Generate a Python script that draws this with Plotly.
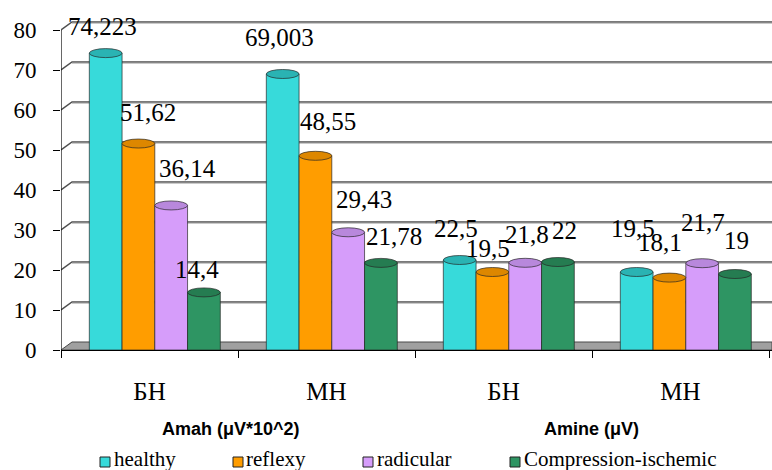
import plotly.graph_objects as go

# ---- data -------------------------------------------------------------
categories = ["БН", "МН", "БН", "МН"]
group_titles = ["Amah (μV*10^2)", "Amine (μV)"]
series_names = ["healthy", "reflexy", "radicular", "Compression-ischemic"]

healthy = [74.223, 69.003, 22.5, 19.5]
reflexy = [51.62, 48.55, 19.5, 18.1]
radicular = [36.14, 29.43, 21.8, 21.7]
compression = [14.4, 21.78, 22, 19]

y_ticks = [0, 10, 20, 30, 40, 50, 60, 70, 80]

# ---- styling ------------------------------------------------------------
body_colors = ["#37DADA", "#FF9D00", "#D69DFA", "#2E9563"]
cap_colors = ["#2AB3B3", "#DD8700", "#B888DC", "#257C51"]
edge = "rgba(35,35,35,0.85)"
serif = "Liberation Serif, Times New Roman, serif"
sans = "Liberation Sans, Arial, sans-serif"

# label nudges (px) relative to the top of each cylinder, per series
label_dx = [[-3, -3, -4, -4], [10, 13, -4, -9], [16, 16, 2, 1], [-7, 13, 7, 2]]
label_dy = [[-27, -36, -32, -44], [-31, -34, -24, -35],
            [-37, -33, -28, -41], [-23, -26, -32, -34]]

# plot-area geometry (pixels)
W, H = 772, 470
ML, MR, MT, MB = 61, 0, 20, 120
X_MIN = -0.5
X_MAX = 3.5 + 3 / 177
Y_MAX = 82.5
PX_PER_X = (W - ML - MR) / (X_MAX - X_MIN)
PX_PER_Y = (H - MT - MB) / Y_MAX

BAR_W = 0.185
GROUP_SHIFT = 0.03
DEPTH_X = 11 / PX_PER_X   # back wall offset
DEPTH_Y = 8 / PX_PER_Y
CAP_H = 4.5 / PX_PER_Y    # half height of the cylinder caps


def px_x(px):
    return (px - ML) / (W - ML - MR)


def px_y(py):
    return (H - MB - py) / (H - MT - MB)


def fmt(v):
    return f"{v:g}".replace(".", ",")


all_series = [healthy, reflexy, radicular, compression]
xs = list(range(len(categories)))

fig = go.Figure()
shapes_below = []
shapes_above = []
annotations = []

# back wall gridlines with the 3D diagonal from the front axis
for t in y_ticks[1:]:
    path = (f"M {X_MIN},{t} L {X_MIN + DEPTH_X},{t + DEPTH_Y} "
            f"L {X_MAX},{t + DEPTH_Y}")
    shapes_below.append(dict(type="path", path=path, xref="x", yref="y",
                             line=dict(color="#4F4F4F", width=1.5),
                             layer="below"))
    shade = (f"M {X_MIN + DEPTH_X},{t + DEPTH_Y - 1.3 / PX_PER_Y} "
             f"L {X_MAX},{t + DEPTH_Y - 1.3 / PX_PER_Y}")
    shapes_below.append(dict(type="path", path=shade, xref="x", yref="y",
                             line=dict(color="#BDBDBD", width=1),
                             layer="below"))

# floor
floor = (f"M {X_MIN},0 L {X_MIN + DEPTH_X},{DEPTH_Y} L {X_MAX},{DEPTH_Y} "
         f"L {X_MAX},0 Z")
shapes_below.append(dict(type="path", path=floor, xref="x", yref="y",
                         fillcolor="#A0A0A0",
                         line=dict(color="#4A4A4A", width=1), layer="below"))

# front vertical axis
shapes_below.append(dict(type="line", xref="x", yref="y", x0=X_MIN, x1=X_MIN,
                         y0=0, y1=80, line=dict(color="black", width=1.2),
                         layer="below"))

for k, (name, vals) in enumerate(zip(series_names, all_series)):
    off = GROUP_SHIFT + (k - 1.5) * BAR_W - BAR_W / 2
    fig.add_trace(go.Bar(
        name=name, x=xs, y=vals, width=BAR_W, offset=off,
        marker=dict(color=body_colors[k], line=dict(color=edge, width=0.8)),
        showlegend=False, hoverinfo="name+y",
    ))
    for i, v in enumerate(vals):
        x0 = i + off
        x1 = x0 + BAR_W
        # rounded base
        shapes_below.append(dict(type="circle", xref="x", yref="y",
                                 x0=x0, x1=x1, y0=-CAP_H, y1=CAP_H,
                                 fillcolor=body_colors[k],
                                 line=dict(color=edge, width=0.8),
                                 layer="below"))
        # top cap
        shapes_above.append(dict(type="circle", xref="x", yref="y",
                                 x0=x0, x1=x1, y0=v - CAP_H, y1=v + CAP_H,
                                 fillcolor=cap_colors[k],
                                 line=dict(color=edge, width=0.8),
                                 layer="above"))
        annotations.append(dict(
            x=x0 + BAR_W / 2, y=v, xref="x", yref="y", text=fmt(v),
            showarrow=False, xanchor="center", yanchor="middle",
            xshift=label_dx[k][i], yshift=-label_dy[k][i],
            font=dict(family=serif, size=25, color="black"),
        ))

# group titles under the category labels
for title, cx in zip(group_titles, [231, 591]):
    annotations.append(dict(
        x=px_x(cx), y=px_y(429), xref="paper", yref="paper", text=f"<b>{title}</b>",
        showarrow=False, xanchor="center", yanchor="middle",
        font=dict(family=sans, size=18, color="black"),
    ))

# legend row
legend_sq = [105, 238, 368, 515]
legend_tx = [113, 245, 376, 523]
for k, name in enumerate(series_names):
    cx = legend_sq[k]
    shapes_above.append(dict(type="rect", xref="paper", yref="paper",
                             x0=px_x(cx - 5), x1=px_x(cx + 5),
                             y0=px_y(467), y1=px_y(457),
                             fillcolor=body_colors[k],
                             line=dict(color="#222222", width=1)))
    annotations.append(dict(
        x=px_x(legend_tx[k]), y=px_y(459), xref="paper", yref="paper",
        text=name, showarrow=False, xanchor="left", yanchor="middle",
        borderpad=0,
        font=dict(family=serif, size=21, color="black"),
    ))

fig.update_layout(
    width=W, height=H,
    margin=dict(l=ML, r=MR, t=MT, b=MB),
    paper_bgcolor="white", plot_bgcolor="white",
    barmode="overlay",
    shapes=shapes_below + shapes_above,
    annotations=annotations,
    xaxis=dict(
        range=[X_MIN, X_MAX], tickmode="array", tickvals=xs,
        ticktext=categories, ticks="", showgrid=False, zeroline=False,
        showline=True, linecolor="black", linewidth=1.2,
        tickfont=dict(family=serif, size=25, color="black"),
        ticklabelstandoff=19,
        minor=dict(tickmode="linear", tick0=-0.5, dtick=1, ticks="outside",
                   ticklen=7, tickcolor="black", tickwidth=1.2,
                   showgrid=False),
    ),
    yaxis=dict(
        range=[0, Y_MAX], tickmode="array", tickvals=y_ticks,
        showgrid=False, zeroline=False, showline=False,
        ticks="outside", ticklen=7, tickcolor="black", tickwidth=1.2,
        tickfont=dict(family=serif, size=23, color="black"),
        ticklabelstandoff=12,
    ),
)

fig.write_html("out.html")
